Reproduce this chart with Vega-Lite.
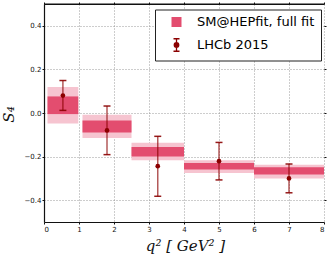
{
  "$schema": "https://vega.github.io/schema/vega-lite/v6.json",
  "width": 280,
  "height": 218,
  "autosize": "none",
  "padding": {"left": 44, "top": 4, "right": 8, "bottom": 38},
  "background": "white",
  "config": {
    "view": {"stroke": null},
    "font": "DejaVu Sans",
    "axis": {
      "labelFont": "DejaVu Sans",
      "labelFontSize": 7,
      "labelColor": "#111",
      "tickColor": "#111",
      "tickSize": 2,
      "labelPadding": 1,
      "domainColor": "#111",
      "domainWidth": 1.2,
      "gridColor": "#8f8f8f",
      "gridDash": [1, 2],
      "gridWidth": 0.9,
      "titleFont": "DejaVu Serif",
      "titleFontStyle": "italic",
      "titleFontWeight": "normal",
      "titleFontSize": 15,
      "titleColor": "#111"
    }
  },
  "datasets": {
    "sm": [
      {"series": "SM@HEPfit, full fit", "xlo": 0.1, "xhi": 0.98, "olo": -0.048, "ohi": 0.119, "ilo": -0.005, "ihi": 0.076},
      {"series": "SM@HEPfit, full fit", "xlo": 1.1, "xhi": 2.5, "olo": -0.115, "ohi": -0.008, "ilo": -0.089, "ihi": -0.034},
      {"series": "SM@HEPfit, full fit", "xlo": 2.5, "xhi": 4, "olo": -0.217, "ohi": -0.137, "ilo": -0.199, "ihi": -0.156},
      {"series": "SM@HEPfit, full fit", "xlo": 4, "xhi": 6, "olo": -0.275, "ohi": -0.217, "ilo": -0.259, "ihi": -0.229},
      {"series": "SM@HEPfit, full fit", "xlo": 6, "xhi": 8, "olo": -0.301, "ohi": -0.237, "ilo": -0.282, "ihi": -0.249}
    ],
    "lhcb": [
      {"series": "LHCb 2015", "xp": 0.54, "yp": 0.08, "elo": 0.012, "ehi": 0.149},
      {"series": "LHCb 2015", "xp": 1.8, "yp": -0.08, "elo": -0.191, "ehi": 0.032},
      {"series": "LHCb 2015", "xp": 3.25, "yp": -0.244, "elo": -0.382, "ehi": -0.107},
      {"series": "LHCb 2015", "xp": 5.0, "yp": -0.221, "elo": -0.307, "ehi": -0.135},
      {"series": "LHCb 2015", "xp": 7.0, "yp": -0.3, "elo": -0.366, "ehi": -0.234}
    ],
    "frame": [{"top": 0.5}]
  },
  "resolve": {"axis": {"x": "independent", "y": "independent"}},
  "layer": [
    {
      "data": {"name": "sm"},
      "mark": {"type": "rect", "color": "#f6c4d0"},
      "encoding": {
        "x": {"field": "xlo", "type": "quantitative", "scale": {"domain": [0, 8], "nice": false, "zero": false},
          "axis": {"orient": "bottom", "values": [0,1,2,3,4,5,6,7,8], "format": "d", "grid": true, "title": "q² [ GeV² ]", "titleX": 141, "titleY": 28, "titleBaseline": "alphabetic", "titleAlign": "center"}},
        "x2": {"field": "xhi"},
        "y": {"field": "olo", "type": "quantitative", "scale": {"domain": [-0.5, 0.5], "nice": false, "zero": false},
          "axis": {"orient": "left", "values": [-0.4,-0.2,0,0.2,0.4], "format": ".1f", "grid": true, "title": "S₄", "titleX": -31, "titleY": 110, "titleAngle": -90, "titleBaseline": "alphabetic", "titleAlign": "center"}},
        "y2": {"field": "ohi"}
      }
    },
    {
      "data": {"name": "sm"},
      "mark": {"type": "rect"},
      "encoding": {
        "x": {"field": "xlo", "type": "quantitative", "scale": {"domain": [0, 8], "nice": false, "zero": false},
          "axis": {"orient": "top", "values": [0,1,2,3,4,5,6,7,8], "labels": false, "grid": false, "title": null, "domain": true, "ticks": true, "domainColor": "#111", "domainWidth": 1.2, "tickSize": 2}},
        "x2": {"field": "xhi"},
        "y": {"field": "ilo", "type": "quantitative", "scale": {"domain": [-0.5, 0.5], "nice": false, "zero": false},
          "axis": {"orient": "right", "values": [-0.4,-0.2,0,0.2,0.4], "labels": false, "grid": false, "title": null, "domain": false, "ticks": true, "tickSize": 2}},
        "y2": {"field": "ihi"},
        "color": {"field": "series", "type": "nominal",
          "scale": {"domain": ["SM@HEPfit, full fit", "LHCb 2015"], "range": ["#e34d6f", "#8b0000"]},
          "legend": {
            "title": null, "orient": "none", "legendX": 111, "legendY": 5.5,
            "fillColor": "white", "strokeColor": "#222", "padding": 6,
            "symbolOffset": 9, "labelOffset": 14, "rowPadding": 6,
            "labelFont": "DejaVu Sans", "labelFontSize": 13, "labelColor": "#000", "labelBaseline": "middle",
            "symbolSize": 100, "symbolStrokeWidth": 1.3,
            "encode": {"symbols": {"update": {
              "shape": {"signal": "datum.value === 'LHCb 2015' ? 'M0,-1.25L0,1.25M-0.6,-1.25L0.6,-1.25M-0.6,1.25L0.6,1.25M-0.45,0A0.45,0.45,0,1,0,0.45,0A0.45,0.45,0,1,0,-0.45,0Z' : 'square'"},
              "fill": {"signal": "datum.value === 'LHCb 2015' ? '#8b0000' : '#e8607e'"},
              "stroke": {"signal": "datum.value === 'LHCb 2015' ? '#8b0000' : '#e8607e'"},
              "opacity": {"value": 1},
              "fillOpacity": {"value": 1},
              "strokeWidth": {"signal": "datum.value === 'LHCb 2015' ? 1.3 : 0"}
            }}}
          }
        }
      }
    },
    {
      "data": {"name": "lhcb"},
      "mark": {"type": "errorbar", "ticks": {"size": 7, "thickness": 1.5, "color": "#8b0000", "opacity": 0.9}, "rule": {"strokeWidth": 1.5, "color": "#8b0000", "opacity": 0.65}},
      "encoding": {
        "x": {"field": "xp", "type": "quantitative", "axis": null},
        "y": {"field": "elo", "type": "quantitative", "axis": null},
        "y2": {"field": "ehi"}
      }
    },
    {
      "data": {"name": "lhcb"},
      "mark": {"type": "point", "filled": true, "size": 22, "opacity": 1},
      "encoding": {
        "x": {"field": "xp", "type": "quantitative", "axis": null},
        "y": {"field": "yp", "type": "quantitative", "axis": null},
        "color": {"field": "series", "type": "nominal",
          "scale": {"domain": ["SM@HEPfit, full fit", "LHCb 2015"], "range": ["#e34d6f", "#8b0000"]}}
      }
    },
    {
      "data": {"name": "frame"},
      "mark": {"type": "rule", "color": "#111", "strokeWidth": 1.2},
      "encoding": {
        "y": {"field": "top", "type": "quantitative", "axis": null}
      }
    }
  ]
}
